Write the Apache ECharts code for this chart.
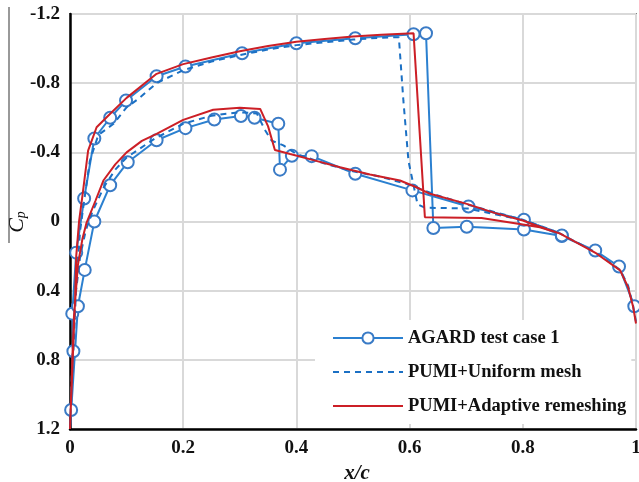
<!DOCTYPE html>
<html>
<head>
<meta charset="utf-8">
<script src="https://cdn.jsdelivr.net/npm/echarts@6/dist/echarts.min.js"></script>
<style>
html,body{margin:0;padding:0;background:#fff;}
#chart{width:639px;height:482px;}
</style>
</head>
<body>
<div id="chart"></div>
<script>
// ---- data: [x/c, Cp] ----
const xTicks = [0, 0.2, 0.4, 0.6, 0.8, 1];
const yTicks = [-1.2, -0.8, -0.4, 0, 0.4, 0.8, 1.2];

// AGARD experimental markers, upper surface from trailing edge to leading edge
const agardUpper = [[0.997,0.49],[0.97,0.26],[0.928,0.168],[0.869,0.084],[0.802,0.046],[0.701,0.03],[0.642,0.038],
  [0.629,-1.089],[0.607,-1.083],[0.504,-1.06],[0.40,-1.031],[0.304,-0.973],[0.204,-0.896],[0.153,-0.84],
  [0.099,-0.70],[0.071,-0.60],[0.043,-0.48],[0.025,-0.133],[0.011,0.18],[0.004,0.533],[0.006,0.75],[0.002,1.09]];
const agardStag = [[0.0,1.2]];
// lower surface from leading edge to trailing edge
const agardLower = [[0.014,0.49],[0.026,0.28],[0.043,0.0],[0.071,-0.21],[0.102,-0.343],[0.153,-0.47],[0.204,-0.54],
  [0.255,-0.59],[0.302,-0.61],[0.326,-0.60],[0.368,-0.565],[0.371,-0.30],[0.392,-0.38],[0.427,-0.378],
  [0.504,-0.276],[0.605,-0.18],[0.704,-0.087],[0.802,-0.01],[0.869,0.081]];

// PUMI + uniform mesh (dashed)
const uniformUpper = [[0.0,1.2],[0.004,0.9],[0.008,0.6],[0.012,0.3],[0.018,0.05],[0.025,-0.12],[0.035,-0.35],
  [0.05,-0.5],[0.077,-0.565],[0.1,-0.66],[0.121,-0.71],[0.153,-0.80],[0.2,-0.875],[0.25,-0.925],[0.3,-0.962],
  [0.35,-0.995],[0.4,-1.02],[0.45,-1.037],[0.5,-1.052],[0.55,-1.063],[0.581,-1.066],[0.589,-0.70],[0.598,-0.35],
  [0.614,-0.10],[0.627,-0.08],[0.703,-0.075],[0.8,-0.008],[0.86,0.06],[0.93,0.18],[0.972,0.28],[0.986,0.37],
  [0.995,0.49],[1.0,0.58]];
const uniformLower = [[0.0,1.2],[0.005,0.7],[0.01,0.42],[0.018,0.2],[0.028,0.05],[0.04,-0.06],[0.06,-0.2],
  [0.08,-0.3],[0.1,-0.37],[0.15,-0.48],[0.2,-0.565],[0.25,-0.612],[0.3,-0.632],[0.33,-0.625],[0.345,-0.526],
  [0.356,-0.468],[0.377,-0.44],[0.4,-0.39],[0.45,-0.335],[0.5,-0.29],[0.55,-0.258],[0.6,-0.212],[0.65,-0.15],
  [0.7,-0.1],[0.8,-0.01],[0.86,0.06]];

// PUMI + adaptive remeshing (red)
const adaptiveUpper = [[0.0,1.2],[0.003,0.95],[0.006,0.7],[0.009,0.45],[0.011,0.2],[0.016,0.0],[0.022,-0.15],
  [0.032,-0.41],[0.047,-0.545],[0.071,-0.623],[0.1,-0.715],[0.153,-0.854],[0.2,-0.91],[0.25,-0.948],
  [0.3,-0.985],[0.35,-1.015],[0.4,-1.04],[0.45,-1.056],[0.5,-1.07],[0.55,-1.08],[0.607,-1.088],[0.627,-0.025],
  [0.727,-0.02],[0.8,0.017],[0.83,0.033],[0.866,0.07],[0.93,0.185],[0.972,0.283],[0.986,0.38],[0.995,0.495],[1.0,0.59]];
const adaptiveLower = [[0.0,1.2],[0.004,0.8],[0.007,0.55],[0.014,0.25],[0.022,0.1],[0.029,0.01],[0.045,-0.12],
  [0.059,-0.237],[0.08,-0.33],[0.1,-0.40],[0.127,-0.466],[0.153,-0.507],[0.2,-0.588],[0.253,-0.646],[0.3,-0.658],
  [0.336,-0.651],[0.35,-0.55],[0.362,-0.414],[0.389,-0.39],[0.43,-0.355],[0.477,-0.314],[0.53,-0.272],
  [0.583,-0.237],[0.612,-0.198],[0.636,-0.16],[0.701,-0.102],[0.75,-0.05],[0.8,-0.006],[0.83,0.03],[0.866,0.07]];

// ---- build ----
const agardData = agardUpper
  .concat(agardStag.map(p => ({value: p, symbol: 'none'})))
  .concat(agardLower);
const uniformData = uniformUpper.slice().reverse().concat(uniformLower);
const adaptiveData = adaptiveUpper.slice().reverse().concat(adaptiveLower);

const fmt = v => Math.abs(v) < 1e-9 ? '0' : String(+v.toFixed(1));
const serif = '"Liberation Serif", "Times New Roman", serif';

const chart = echarts.init(document.getElementById('chart'), null, {renderer: 'canvas'});
chart.setOption({
  animation: false,
  backgroundColor: '#fff',
  grid: {left: 70, right: 3, top: 14, bottom: 53, show: true, borderColor: '#222', borderWidth: 1.5,
         containLabel: false, outerBoundsMode: 'none'},
  xAxis: {
    type: 'value', min: xTicks[0], max: xTicks[xTicks.length - 1], interval: 0.2,
    name: 'x/c', nameLocation: 'middle', nameGap: 34,
    nameTextStyle: {fontFamily: serif, fontStyle: 'italic', fontWeight: 'bold', fontSize: 21, color: '#111', padding: [0,0,0,8]},
    axisLine: {show: true, onZero: false, lineStyle: {color: '#000', width: 2.5}},
    axisTick: {show: false},
    axisLabel: {formatter: fmt, fontFamily: serif, fontWeight: 'bold', fontSize: 19, color: '#111', margin: 10},
    splitLine: {show: true, lineStyle: {color: '#d9d9d9', width: 2}}
  },
  yAxis: {
    type: 'value', inverse: true, min: yTicks[0], max: yTicks[yTicks.length - 1], interval: 0.4,
    axisLine: {show: true, onZero: false, lineStyle: {color: '#000', width: 2.5}},
    axisTick: {show: false},
    axisLabel: {formatter: fmt, fontFamily: serif, fontWeight: 'bold', fontSize: 19, color: '#111', margin: 10},
    splitLine: {show: true, lineStyle: {color: '#d9d9d9', width: 2}}
  },
  legend: {
    orient: 'vertical', left: 315, top: 320, width: 315,
    padding: [8, 5, 8, 17], backgroundColor: '#fff',
    itemWidth: 70, itemHeight: 14, itemGap: 14,
    textStyle: {fontFamily: serif, fontWeight: 'bold', fontSize: 18.5, color: '#111', lineHeight: 20},
    data: [
      {name: 'AGARD test case 1'},
      {name: 'PUMI+Uniform mesh', itemStyle: {opacity: 0, color: 'transparent', borderWidth: 0}},
      {name: 'PUMI+Adaptive remeshing', itemStyle: {opacity: 0, color: 'transparent', borderWidth: 0}}
    ]
  },
  graphic: [
    {type: 'line', shape: {x1: 9, y1: 7, x2: 9, y2: 243}, style: {stroke: '#777', lineWidth: 1.5}},
    {
      type: 'text', x: 17, y: 222, rotation: Math.PI / 2,
      style: {
        text: '{c|C}{p|p}', align: 'center', verticalAlign: 'middle',
        rich: {
          c: {fontFamily: serif, fontStyle: 'italic', fontSize: 22, fill: '#111', verticalAlign: 'bottom'},
          p: {fontFamily: serif, fontStyle: 'italic', fontSize: 14, fill: '#111', verticalAlign: 'bottom'}
        }
      }
    }
  ],
  series: [
    {
      name: 'AGARD test case 1', type: 'line', data: agardData,
      symbol: 'circle', symbolSize: 12, showAllSymbol: true,
      lineStyle: {color: '#2b80d0', width: 2},
      itemStyle: {color: '#fff', borderColor: '#3a7bc6', borderWidth: 2},
      z: 2
    },
    {
      name: 'PUMI+Uniform mesh', type: 'line', data: uniformData, showSymbol: false, symbol: 'none',
      lineStyle: {color: '#1b70c4', width: 2, type: [6, 5]},
      itemStyle: {color: '#1b70c4'},
      z: 3
    },
    {
      name: 'PUMI+Adaptive remeshing', type: 'line', data: adaptiveData, showSymbol: false, symbol: 'none',
      lineStyle: {color: '#cc1f26', width: 2},
      itemStyle: {color: '#cc1f26'},
      z: 4
    }
  ]
});
</script>
</body>
</html>
